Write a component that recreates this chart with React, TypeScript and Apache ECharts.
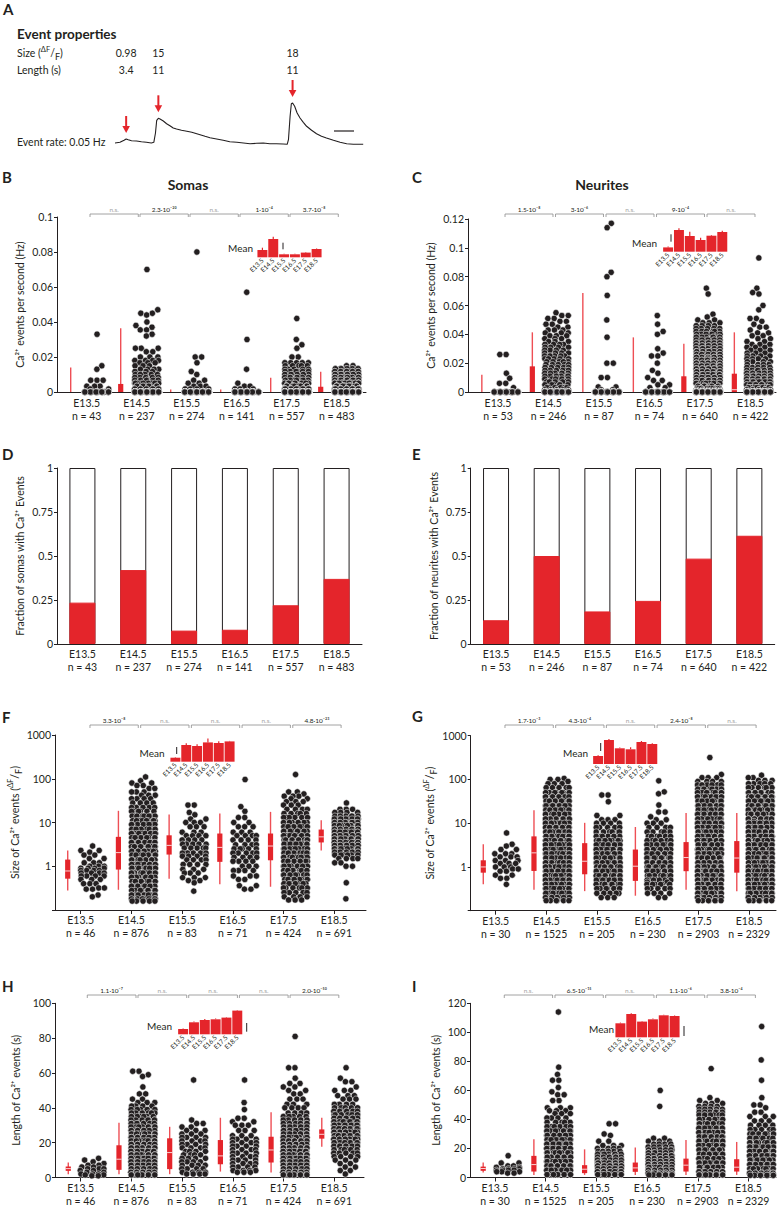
import React, { useEffect, useRef } from 'react';
import * as echarts from 'echarts';

const FONT = 'Lato, "Noto Sans", "DejaVu Sans", sans-serif';
const INK = '#231f20';
const RED = '#e4252b';
const WHISKER = '#ee4f55';
const BRACKET = '#8c8c8c';

const stages = ['E13.5', 'E14.5', 'E15.5', 'E16.5', 'E17.5', 'E18.5'];

// ---------- Panel A : example trace ----------
const traceT = [0,1.2,2.2,2.7,3.2,4.0,5.2,6.4,7.6,8.8,9.4,9.8,10.1,10.5,10.9,11.7,12.5,13.3,14.1,14.9,16.1,17.4,18.6,19.8,20.6,21.8,23.0,24.6,26.2,27.8,29.5,31.1,32.7,34.3,35.9,37.5,39.1,40.7,41.7,42.0,42.4,42.7,43.0,43.5,44.1,44.8,45.6,46.4,47.6,48.8,50.0,51.2,52.9,54.5,56.1,57.7,60.1];
const traceF = [0,0.7,2.7,4,3.3,2.3,2,1.3,0.7,0,0.7,10,22.7,24.7,24,22,19.3,17.3,15,14,12.7,11.7,10.7,9.3,8.3,6.7,5.3,4,2.7,1.3,0.7,0,-0.7,-0.3,0,-0.7,-0.7,-1,-1.3,3.3,26.7,39.3,40,36.7,30,25,20.7,16.7,12.7,9.3,6.7,5,2.7,0.7,-0.7,-1.3,-1.3];
const eventT = [2.7, 10.5, 43.0];
const eventPeak = [4, 24.7, 40];
const eventSize = ['0.98', '15', '18'];
const eventLength = ['3.4', '11', '11'];
const eventRate = '0.05 Hz';

// ---------- group sizes ----------
const nSomaRate = [43, 237, 274, 141, 557, 483];
const nNeuriteRate = [53, 246, 87, 74, 640, 422];
const nSomaEvt = [46, 876, 83, 71, 424, 691];
const nNeuriteEvt = [30, 1525, 205, 230, 2903, 2329];

// ---------- D / E fractions ----------
const fracSoma = [0.235, 0.42, 0.076, 0.081, 0.22, 0.37];
const fracNeurite = [0.135, 0.5, 0.185, 0.245, 0.485, 0.615];

// ---------- box plots [low, q1, median, q3, high] ----------
const boxRateSoma = [[0,0,0,0,0.014],[0,0,0,0.0046,0.0364],[0,0,0,0,0.0015],[0,0,0,0,0.0015],[0,0,0,0,0.0082],[0,0,0,0.003,0.0116]];
const boxRateNeurite = [[0,0,0,0,0.012],[0,0,0,0.0178,0.0414],[0,0,0,0,0.0687],[0,0,0,0,0.0379],[0,0,0,0.0109,0.0335],[0,0,0.0016,0.0127,0.0414]];
const boxSizeSoma = [[0.28,0.52,0.78,1.42,2.3],[0.29,0.84,2.05,4.7,18.5],[0.52,1.85,3.0,5.1,15.2],[0.39,1.26,2.7,5.6,16],[0.34,1.37,2.9,5.6,17.5],[2.3,3.5,4.7,6.9,11.3]];
const boxSizeNeurite = [[0.40,0.74,1.0,1.42,3.3],[0.30,0.81,2.1,5.0,19.9],[0.28,0.68,1.35,3.5,10.2],[0.22,0.48,1.04,2.5,8.2],[0.30,0.80,1.64,3.7,17.2],[0.28,0.74,1.6,3.9,17]];
const boxLenSoma = [[1.9,3.8,5.1,6.3,8.6],[1.9,4.4,10.5,18.5,31.4],[1.9,4.8,14.3,22.5,29.1],[3.4,7.6,12.4,21.5,34.3],[2.9,8.6,15.8,23.4,37.5],[17.7,22.3,24.8,27.6,34.3]];
const boxLenNeurite = [[3.4,4.6,6.2,7.5,10.3],[1.8,4.1,8.9,14.9,26.3],[1.8,3.0,5.7,8.5,19.4],[1.8,3.9,6.6,10.3,20.6],[1.8,4.1,8.5,13,25.8],[1.8,4.1,7.1,12.6,24.5]];

// ---------- per-cell values as [value, count] ----------
const rateSoma = [
  [[0.033,1],[0.015,1],[0.013,1],[0.0067,3],[0.0033,3],[0.0017,2],[0,32]],
  [[0.07,1],[0.047,1],[0.045,2],[0.044,1],[0.04,1],[0.038,1],[0.037,1],[0.0355,2],[0.033,1],[0.032,1],[0.025,3],[0.023,2],[0.02,3],[0.018,4],[0.0167,3],[0.015,3],[0.013,4],[0.0117,3],[0.01,5],[0.0083,5],[0.0067,7],[0.005,9],[0.0033,11],[0.0017,12],[0,151]],
  [[0.08,1],[0.02,2],[0.0167,1],[0.0117,1],[0.01,1],[0.0067,2],[0.005,2],[0.0033,3],[0.0017,4],[0,257]],
  [[0.057,1],[0.03,1],[0.013,1],[0.005,1],[0.0033,2],[0.0017,3],[0,132]],
  [[0.042,1],[0.03,1],[0.027,1],[0.025,1],[0.02,2],[0.0167,5],[0.015,5],[0.013,5],[0.0117,6],[0.01,8],[0.0083,8],[0.0067,10],[0.005,12],[0.0033,22],[0.0017,25],[0,445]],
  [[0.015,2],[0.0133,10],[0.0117,12],[0.01,14],[0.0083,14],[0.0067,16],[0.005,24],[0.0033,28],[0.0017,32],[0,331]],
];
const rateNeurite = [
  [[0.026,2],[0.013,1],[0.0095,1],[0.006,2],[0.003,1],[0,46]],
  [[0.055,1],[0.053,2],[0.051,2],[0.049,2],[0.047,2],[0.045,2],[0.043,3],[0.041,3],[0.039,3],[0.037,3],[0.035,3],[0.033,4],[0.031,4],[0.029,4],[0.027,4],[0.025,5],[0.023,5],[0.021,5],[0.019,5],[0.017,5],[0.015,6],[0.013,6],[0.011,6],[0.009,6],[0.007,6],[0.005,6],[0.003,6],[0.0015,6],[0,125]],
  [[0.117,1],[0.114,1],[0.083,1],[0.08,1],[0.067,1],[0.05,1],[0.038,1],[0.02,2],[0.01,2],[0.0035,2],[0.0015,2],[0,72]],
  [[0.053,1],[0.047,1],[0.042,1],[0.04,1],[0.03,1],[0.027,1],[0.025,2],[0.02,1],[0.015,1],[0.013,1],[0.01,1],[0.008,2],[0.005,2],[0.003,2],[0,56]],
  [[0.072,1],[0.068,1],[0.054,1],[0.052,1],[0.05,2],[0.048,3],[0.046,4],[0.044,5],[0.042,6],[0.04,7],[0.038,8],[0.036,9],[0.034,10],[0.032,10],[0.03,11],[0.028,12],[0.026,12],[0.024,12],[0.023,1],[0.022,13],[0.02,13],[0.018,14],[0.016,14],[0.014,14],[0.012,14],[0.01,14],[0.008,14],[0.006,14],[0.004,14],[0.0025,14],[0.0012,14],[0,352]],
  [[0.093,1],[0.072,1],[0.069,1],[0.068,1],[0.06,1],[0.057,1],[0.051,2],[0.049,1],[0.047,1],[0.045,2],[0.043,1],[0.041,2],[0.039,2],[0.037,2],[0.035,2],[0.033,3],[0.031,3],[0.029,3],[0.027,3],[0.025,4],[0.023,4],[0.021,4],[0.019,4],[0.017,5],[0.015,6],[0.013,8],[0.011,10],[0.009,12],[0.007,12],[0.005,12],[0.003,12],[0.0015,12],[0,230]],
];
const sizeSoma = [
  [[2.9,1],[2.3,2],[2.1,1],[1.8,2],[1.5,2],[1.2,3],[1.0,3],[0.9,4],[0.8,4],[0.7,4],[0.6,4],[0.5,3],[0.4,3],[0.32,2],[0.3,2],[0.22,1],[0.2,1]],
  [[110,1],[90,1],[80,2],[70,2],[60,2],[50,3],[42,3],[35,4],[28,4],[22,5],[18,6],[14,7],[11,8],[9,8],[7,9],[5.6,10],[4.5,10],[3.5,10],[2.8,10],[2.2,10],[1.8,10],[1.4,10],[1.1,10],[0.9,10],[0.7,10],[0.56,9],[0.45,9],[0.35,9],[0.28,8],[0.22,8],[0.18,7],[0.16,5]],
  [[25,2],[17,1],[15,1],[12,2],[10,3],[8,3],[6,3],[5,4],[4,4],[3.2,5],[2.6,5],[2,5],[1.7,4],[1.4,4],[1.1,4],[0.85,3],[0.7,3],[0.55,3],[0.47,2],[0.42,1],[0.27,1]],
  [[96,1],[23,1],[18,1],[13,2],[10,2],[8,3],[6,3],[5,4],[4,4],[3.1,4],[2.5,5],[2,5],[1.6,4],[1.3,4],[1,3],[0.8,4],[0.6,3],[0.5,2],[0.36,2],[0.3,2]],
  [[125,1],[50,2],[45,1],[40,3],[35,2],[30,3],[25,3],[20,4],[16,5],[13,6],[10,7],[8,8],[6.3,8],[5,9],[4,9],[3.2,9],[2.5,9],[2,9],[1.6,9],[1.3,9],[1,9],[0.8,9],[0.63,8],[0.5,8],[0.4,7],[0.32,6],[0.25,5],[0.2,4],[0.17,3]],
  [[28,1],[20,3],[17,4],[14,6],[12,8],[10,10],[8.5,10],[7,10],[6,10],[5,10],[4.2,10],[3.5,10],[3,10],[2.5,9],[2.1,8],[1.8,6],[1.5,4],[1.2,2],[1,2],[0.42,1],[0.18,1]],
];
const sizeNeurite = [
  [[6,1],[3.3,1],[3,1],[2.5,2],[2,3],[1.7,3],[1.4,3],[1.2,3],[1,3],[0.9,2],[0.8,2],[0.65,2],[0.55,2],[0.4,1]],
  [[105,1],[100,2],[90,1],[80,3],[65,5],[50,7],[40,8],[32,9],[25,10],[20,10],[16,10],[12.5,10],[10,10],[8,10],[6.3,10],[5,10],[4,10],[3.2,10],[2.5,10],[2,10],[1.6,10],[1.25,10],[1,10],[0.8,10],[0.63,10],[0.5,10],[0.4,10],[0.32,10],[0.25,9],[0.2,8],[0.17,6]],
  [[44,2],[31,1],[15,2],[12,3],[10,4],[8,5],[6.3,6],[5,7],[4,8],[3.2,8],[2.5,9],[2,9],[1.6,9],[1.25,9],[1,9],[0.8,9],[0.63,8],[0.5,8],[0.4,7],[0.32,6],[0.25,5],[0.2,3]],
  [[93,1],[52,1],[47,1],[26,1],[18,2],[14,1],[12,2],[10,3],[8,4],[6.3,5],[5,6],[4,7],[3.2,8],[2.5,8],[2,8],[1.6,8],[1.25,8],[1,8],[0.8,8],[0.63,7],[0.5,7],[0.45,2],[0.4,6],[0.32,5],[0.25,4],[0.2,2]],
  [[316,1],[130,1],[110,3],[90,4],[75,6],[60,7],[50,8],[40,10],[32,10],[25,10],[20,10],[16,10],[12.5,10],[10,10],[8,10],[6.3,10],[5,10],[4,10],[3.2,10],[2.5,10],[2,10],[1.6,10],[1.25,10],[1,10],[0.8,10],[0.63,10],[0.5,10],[0.4,10],[0.32,10],[0.25,10],[0.2,9],[0.17,7]],
  [[125,1],[110,2],[95,3],[80,5],[65,6],[50,8],[40,9],[32,10],[25,10],[20,10],[16,10],[12.5,10],[11,1],[10,10],[8,10],[6.3,10],[5,10],[4,10],[3.2,10],[2.5,10],[2,10],[1.6,10],[1.25,10],[1,10],[0.8,10],[0.63,10],[0.5,10],[0.4,10],[0.32,10],[0.25,10],[0.2,9],[0.17,6]],
];
const lenSoma = [
  [[11,1],[10,1],[9,1],[8,1],[7,2],[6,2],[5,3],[4,2],[3,2],[2,3],[1.5,2],[1,2]],
  [[61,2],[59,1],[58,1],[52,1],[48,2],[45,2],[43,3],[41,4],[39,5],[37,6],[35,7],[33,7],[31,8],[29,8],[27,9],[25,9],[23,10],[21,10],[19,10],[17,10],[15,10],[13,10],[11,10],[9,10],[7,10],[5,10],[3,10],[1.5,10]],
  [[56,1],[33,1],[31,2],[29,2],[27,3],[25,3],[23,4],[21,4],[19,4],[17,4],[15,4],[13,4],[11,4],[9,4],[7,4],[5,4],[3,4],[2,4]],
  [[56,1],[43,1],[39,1],[34,2],[32,2],[30,3],[27,3],[24,3],[22,4],[20,4],[18,4],[16,4],[14,4],[12,4],[10,4],[8,4],[6,4],[4,4],[3,3]],
  [[81,1],[63,2],[57,1],[54,2],[52,2],[50,2],[48,2],[45,3],[42,3],[40,4],[37,4],[35,5],[33,5],[31,6],[29,7],[27,7],[25,8],[23,8],[21,9],[19,9],[17,10],[15,10],[13,10],[11,10],[9,10],[7,10],[5,10],[3,10],[1.5,10]],
  [[63,1],[57,1],[55,2],[52,1],[50,3],[47,3],[45,3],[42,4],[40,5],[38,6],[36,7],[34,8],[32,9],[30,10],[28,10],[26,10],[24,10],[22,10],[20,9],[18,8],[16,6],[14,5],[12,4],[10,3],[8,2],[6,2],[4,2],[2,1]],
];
const lenNeurite = [
  [[15,1],[10,2],[8,2],[7,2],[6,4],[5,4],[4,3],[3,2]],
  [[114,1],[76,1],[71,1],[67,2],[62,1],[59,1],[57,2],[53,2],[48,3],[46,3],[44,3],[41,4],[38,5],[35,6],[32,8],[29,9],[26,10],[23,10],[20,10],[17,10],[14,10],[11,10],[8,10],[5,10],[2,10]],
  [[37,2],[30,1],[29,1],[25,2],[22,3],[20,4],[18,5],[16,6],[14,7],[12,8],[10,9],[8,10],[6,10],[4,10],[2,10]],
  [[60,1],[49,1],[27,2],[25,3],[23,4],[21,5],[19,6],[17,7],[15,8],[13,9],[11,10],[9,10],[7,10],[5,10],[3,10],[1.8,8]],
  [[75,1],[55,1],[53,2],[51,3],[49,4],[47,5],[45,6],[43,7],[40,8],[37,9],[34,10],[31,10],[28,10],[25,10],[22,10],[19,10],[16,10],[13,10],[10,10],[7,10],[4,10],[1.8,10]],
  [[104,1],[81,1],[67,1],[55,1],[50,2],[48,1],[45,2],[42,3],[39,3],[36,4],[33,5],[30,6],[27,7],[24,8],[21,9],[18,10],[15,10],[12,10],[9,10],[6,10],[3,10],[1.5,8]],
];

// ---------- significance between neighbours ----------
const sigRateSoma = ['n.s.', '2.3·10⁻²⁰', 'n.s.', '1·10⁻⁴', '3.7·10⁻⁸'];
const sigRateNeurite = ['1.5·10⁻⁸', '3·10⁻⁶', 'n.s.', '9·10⁻⁴', 'n.s.'];
const sigSizeSoma = ['3.3·10⁻⁸', 'n.s.', 'n.s.', 'n.s.', '4.8·10⁻²³'];
const sigSizeNeurite = ['1.7·10⁻³', '4.3·10⁻⁴', 'n.s.', '2.4·10⁻⁸', 'n.s.'];
const sigLenSoma = ['1.1·10⁻⁷', 'n.s.', 'n.s.', 'n.s.', '2.0·10⁻⁵⁰'];
const sigLenNeurite = ['n.s.', '6.5·10⁻¹⁵', 'n.s.', '1.1·10⁻⁶', '3.8·10⁻⁴'];

// ---------- inset means (relative units) ----------
const meanRateSoma = [7.3, 18.3, 3, 3, 4.7, 8.3];
const errRateSoma = [2.3, 2.3, 0.5, 0.5, 0.5, 0.5];
const meanRateNeurite = [4.3, 21.7, 15.7, 11.7, 16, 19.7];
const errRateNeurite = [1, 1.7, 4.3, 2.3, 0.7, 1.3];
const meanSizeSoma = [4, 16.7, 15.7, 19.3, 18.7, 20.3];
const errSizeSoma = [0.5, 1.7, 1.7, 4, 1.7, 0.5];
const meanSizeNeurite = [8, 24, 15.7, 14.7, 22, 20];
const errSizeNeurite = [0.7, 1, 0.7, 2, 1, 0.7];
const meanLenSoma = [5.3, 12, 14.3, 15, 16.7, 23.7];
const errLenSoma = [0.5, 0.7, 1, 0.7, 0.5, 0.5];
const meanLenNeurite = [14, 23.3, 15.7, 18, 22, 21.3];
const errLenNeurite = [0.7, 0.7, 0.7, 0.7, 0.5, 0.5];

// ---------- layout (styles) ----------
const GEO: any = {
  B: { left: 57, top: 217, height: 175, axisEnd: 366, c0: 86.7, sp: 50, ymin: 0, ymax: 0.1, interval: 0.02, boxOff: -0.32, swOff: 0.2, brS: 0.066, brE: 0.032, brLift: 3, ticks: false, nameGap: 29, lm: 4.5 },
  C: { left: 468, top: 219, height: 173, axisEnd: 776, c0: 498, sp: 50.5, ymin: 0, ymax: 0.12, interval: 0.02, boxOff: -0.32, swOff: 0.16, brS: 0.139, brE: 0.089, brLift: 5, ticks: false, nameGap: 25, lm: 4.5 },
  F: { left: 55, top: 735, height: 175, axisEnd: 366, c0: 80.7, sp: 50.7, log: true, ymin: 0.1, ymax: 1000, boxOff: -0.256, swOff: 0.237, brS: 0.183, brE: 0.136, brLift: 10, ticks: true, nameGap: 30, lm: 3.5 },
  G: { left: 470.7, top: 735.7, height: 175, axisEnd: 776, c0: 495.7, sp: 50.7, log: true, ymin: 0.1, ymax: 1000, boxOff: -0.245, swOff: 0.217, brS: 0.183, brE: 0.136, brLift: 10.7, ticks: true, nameGap: 29, lm: 3.5 },
  H: { left: 55, top: 1003.3, height: 175, axisEnd: 364, c0: 80.7, sp: 50.7, ymin: 0, ymax: 100, interval: 20, boxOff: -0.245, swOff: 0.227, brS: 0.13, brE: 0.091, brLift: 8.3, ticks: true, nameGap: 31, lm: 3.5 },
  I: { left: 470, top: 1003.3, height: 175, axisEnd: 776, c0: 495, sp: 50.7, ymin: 0, ymax: 120, interval: 20, boxOff: -0.233, swOff: 0.256, brS: 0.183, brE: 0.136, brLift: 8.3, ticks: true, nameGap: 24, lm: 3.5 },
};
const INSET: any = {
  B: { x: 257, base: 257.3, bar: [283, 242.7, 249.3], meanX: 253, meanY: 248 },
  C: { x: 662.7, base: 251.7, bar: [671, 234.3, 241.7], meanX: 657, meanY: 242.7 },
  F: { x: 170, base: 761.7, bar: [176.7, 747, 754], meanX: 164.5, meanY: 753 },
  G: { x: 592.7, base: 764, bar: [600.7, 743, 751], meanX: 588, meanY: 753.3 },
  H: { x: 177.7, base: 1034.3, bar: [246.7, 1023, 1031.7], meanX: 172, meanY: 1026 },
  I: { x: 615, base: 1037.3, bar: [684, 1026, 1036], meanX: 614, meanY: 1028.7 },
};

function expand(pairs: number[][]) {
  const out: number[] = [];
  pairs.forEach(([v, c]) => { for (let k = 0; k < c; k++) out.push(v); });
  return out;
}
function toPx(v: number, g: any) {
  if (g.log) return (Math.log10(v) - Math.log10(g.ymin)) / (Math.log10(g.ymax) - Math.log10(g.ymin)) * g.height;
  return (v - g.ymin) / (g.ymax - g.ymin) * g.height;
}
// beeswarm-like spreading inside a fixed width (pixels); candidate grid is shifted by a
// golden-ratio phase per point so that dense rows do not line up in columns
function spread(py: number[], R: number, half: number) {
  const n = py.length;
  const order = py.map((_, i) => i).sort((a, b) => py[a] - py[b]);
  const out = new Array(n).fill(0);
  const PX: number[] = [], PY: number[] = [];
  const D = 2 * R;
  const step = 0.75;
  order.forEach((i, cnt) => {
    const y = py[i];
    const phase = (((cnt * 0.618034) % 1) - 0.5) * step;
    const cands = [phase];
    for (let k = step; k <= half; k += step) { cands.push(k + phase, -k + phase); }
    const nb: number[] = [];
    for (let j = PY.length - 1; j >= 0; j--) { if (y - PY[j] >= D) break; nb.push(j); }
    let best = 0, bestS = Infinity;
    for (const c of cands) {
      if (Math.abs(c) > half) continue;
      let s = Math.abs(c) * 0.04;
      for (const j of nb) {
        const dx = c - PX[j], dy = y - PY[j];
        const d = Math.sqrt(dx * dx + dy * dy);
        if (d < D) s += D - d;
      }
      if (s < bestS) { bestS = s; best = c; }
    }
    out[i] = best; PX.push(best); PY.push(y);
  });
  return out;
}

const tStyle = (o: any) => ({ fontFamily: FONT, fill: INK, ...o });
function txt(x: number, y: number, text: string, o: any = {}) {
  return { type: 'text', x, y, silent: true, style: tStyle({ text, fontSize: 10.5, align: 'left', verticalAlign: 'middle', textAlign: 'left', textVerticalAlign: 'middle', ...o }) };
}

const nameRich = {
  up: { fontSize: 7.5, verticalAlign: 'top', lineHeight: 16, fontFamily: FONT, color: INK },
  dn: { fontSize: 9, verticalAlign: 'bottom', lineHeight: 16, fontFamily: FONT, color: INK },
};

function buildOption() {
  const o: any = { animation: false, backgroundColor: '#fff', grid: [], xAxis: [], yAxis: [], series: [], graphic: [] };
  const addGrid = (g: any) => { o.grid.push({ containLabel: false, ...g }); return o.grid.length - 1; };

  // ----- A -----
  const gA = addGrid({ left: 115, top: 101, width: 248.2, height: 44 });
  o.xAxis.push({ gridIndex: gA, type: 'value', min: 0, max: 60.1, show: false });
  o.yAxis.push({ gridIndex: gA, type: 'value', min: -2, max: 42, show: false });
  o.series.push({ type: 'line', xAxisIndex: gA, yAxisIndex: gA, data: traceT.map((t, i) => [t, traceF[i]]), showSymbol: false, lineStyle: { color: INK, width: 1.1 }, silent: true });
  o.series.push({
    type: 'custom', xAxisIndex: gA, yAxisIndex: gA, silent: true, clip: false,
    data: eventT.map((t, i) => [t, eventPeak[i]]),
    renderItem: (params: any, api: any) => {
      const i = params.dataIndex;
      const p = api.coord([api.value(0), api.value(1)]);
      const tip = p[1] - 6;
      return { type: 'group', children: [
        { type: 'rect', shape: { x: p[0] - 1, y: tip - 17, width: 2, height: 11 }, style: { fill: RED } },
        { type: 'polygon', shape: { points: [[p[0] - 3.8, tip - 7], [p[0] + 3.8, tip - 7], [p[0], tip]] }, style: { fill: RED } },
        { type: 'text', style: tStyle({ text: eventSize[i], x: p[0], y: 53, fontSize: 10.5, align: 'center', verticalAlign: 'middle', textAlign: 'center', textVerticalAlign: 'middle' }) },
        { type: 'text', style: tStyle({ text: eventLength[i], x: p[0], y: 70, fontSize: 10.5, align: 'center', verticalAlign: 'middle', textAlign: 'center', textVerticalAlign: 'middle' }) },
      ] };
    },
  });
  o.graphic.push({ type: 'line', silent: true, shape: { x1: 334, y1: 131, x2: 354, y2: 131 }, style: { stroke: INK, lineWidth: 1.2 } });
  o.graphic.push(txt(17, 33.5, 'Event properties', { fontSize: 13.5, fontWeight: 'bold' }));
  o.graphic.push({ type: 'text', x: 17, y: 53, silent: true, style: tStyle({ text: 'Size ({u|ΔF}/{d|F})', fontSize: 10.5, verticalAlign: 'middle', textVerticalAlign: 'middle',
    rich: { u: { fontSize: 7.5, verticalAlign: 'top', lineHeight: 16, fill: INK, fontFamily: FONT }, d: { fontSize: 9, verticalAlign: 'bottom', lineHeight: 16, fill: INK, fontFamily: FONT } } }) });
  o.graphic.push(txt(17, 70, 'Length (s)'));
  o.graphic.push(txt(17, 142, 'Event rate: ' + eventRate));

  // ----- letters & titles -----
  const letters: any[] = [['A', 3, 8.5], ['B', 2, 177], ['C', 412, 177], ['D', 2, 454], ['E', 412, 454], ['F', 2, 717], ['G', 412, 716], ['H', 2, 986], ['I', 412, 986]];
  letters.forEach(([l, x, y]) => o.graphic.push(txt(x, y, l, { fontSize: 15, fontWeight: 'bold' })));
  o.graphic.push(txt(188, 184.5, 'Somas', { fontSize: 14, fontWeight: 'bold', align: 'center', textAlign: 'center' }));
  o.graphic.push(txt(602, 184.5, 'Neurites', { fontSize: 14, fontWeight: 'bold', align: 'center', textAlign: 'center' }));

  const yAxisBase = (g: any, name: string, rich?: any) => ({
    axisLine: { show: true, onZero: false, lineStyle: { color: INK, width: 1 } },
    axisTick: { show: true, length: 3, lineStyle: { color: INK, width: 1 } },
    axisLabel: { color: INK, fontSize: 10.5, fontFamily: FONT, margin: 4 },
    splitLine: { show: false },
    name, nameLocation: 'middle', nameGap: g.nameGap,
    nameTextStyle: { color: INK, fontSize: 10.5, fontFamily: FONT, lineHeight: 16, ...(rich ? { rich } : {}) },
  });

  const swarmPanel = (g: any, groups: any[], boxes: number[][], sig: string[], nArr: number[], name: string, rich?: any) => {
    const gi = addGrid({ left: g.left, top: g.top, width: g.axisEnd - g.left, height: g.height });
    const xmin = -(g.c0 - g.left) / g.sp;
    const xmax = (g.axisEnd - g.c0) / g.sp;
    const idx = [0, 1, 2, 3, 4, 5];
    o.xAxis.push({
      gridIndex: gi, type: 'value', min: xmin, max: xmax, splitLine: { show: false },
      axisLine: { show: true, onZero: false, lineStyle: { color: INK, width: 1 } },
      axisTick: { show: g.ticks, customValues: idx, length: 4, lineStyle: { color: INK, width: 1 } },
      axisLabel: {
        customValues: idx, color: INK, fontSize: 10.5, fontFamily: FONT, lineHeight: 13, margin: g.lm,
        formatter: (v: number) => { const k = Math.round(v); return Math.abs(v - k) < 1e-6 && k >= 0 && k < 6 ? `${stages[k]}\nn = ${nArr[k]}` : ''; },
      },
    });
    const yb: any = yAxisBase(g, name, rich);
    const ya: any = { gridIndex: gi, type: g.log ? 'log' : 'value', min: g.ymin, max: g.ymax, ...yb };
    if (g.log) { ya.logBase = 10; ya.axisLabel = { ...yb.axisLabel, formatter: (v: number) => (v < 0.5 ? '' : String(v)) }; }
    else { ya.interval = g.interval; ya.axisLabel = { ...yb.axisLabel, formatter: (v: number) => String(Math.round(v * 1000) / 1000) }; }
    o.yAxis.push(ya);

    // box plots
    o.series.push({
      type: 'custom', xAxisIndex: gi, yAxisIndex: gi, silent: true, clip: false, z: 3,
      data: boxes.map((b, k) => [k + g.boxOff, ...b]),
      renderItem: (params: any, api: any) => {
        const x = api.value(0);
        const c = (d: number) => api.coord([x, api.value(d)]);
        const lo = c(1), q1 = c(2), md = c(3), q3 = c(4), hi = c(5);
        const ch: any[] = [{ type: 'line', shape: { x1: lo[0], y1: lo[1], x2: hi[0], y2: hi[1] }, style: { stroke: WHISKER, lineWidth: 1.4 } }];
        if (q1[1] - q3[1] > 0.5) {
          ch.push({ type: 'rect', shape: { x: q1[0] - 2.6, y: q3[1], width: 5.2, height: q1[1] - q3[1] }, style: { fill: RED } });
          if (api.value(3) > api.value(2)) ch.push({ type: 'line', shape: { x1: md[0] - 2.6, y1: md[1], x2: md[0] + 2.6, y2: md[1] }, style: { stroke: '#fff', lineWidth: 0.8 } });
        }
        return { type: 'group', children: ch };
      },
    });

    // swarm
    const pts: number[][] = [];
    groups.forEach((pairs: number[][], k: number) => {
      const vals = expand(pairs);
      const py = vals.map((v) => toPx(v, g));
      const dx = spread(py, 3, 12);
      vals.forEach((v, j) => pts.push([k + g.swOff + dx[j] / g.sp, v]));
    });
    o.series.push({
      type: 'scatter', xAxisIndex: gi, yAxisIndex: gi, data: pts, symbol: 'circle', symbolSize: 6.3, silent: true, clip: false,
      progressive: 0, large: false, z: 4,
      itemStyle: { color: INK, borderColor: '#e2e2e2', borderWidth: 0.6, opacity: 1 },
    });

    // significance brackets
    o.series.push({
      type: 'custom', xAxisIndex: gi, yAxisIndex: gi, silent: true, clip: false, z: 5,
      data: sig.map((_, k) => [k, g.ymax]),
      renderItem: (params: any, api: any) => {
        const k = api.value(0);
        const a = api.coord([k + g.brS, g.ymax]);
        const b = api.coord([k + 1 + g.brE, g.ymax]);
        const y = a[1] - g.brLift;
        const label = sig[params.dataIndex];
        const ns = label === 'n.s.';
        return { type: 'group', children: [
          { type: 'polyline', shape: { points: [[a[0], y + 3], [a[0], y], [b[0], y], [b[0], y + 3]] }, style: { stroke: BRACKET, lineWidth: 0.8, fill: 'none' } },
          { type: 'text', style: tStyle({ text: label, x: (a[0] + b[0]) / 2, y: y - 1.5, fontSize: 6.5, fill: ns ? '#a3a3a3' : INK, align: 'center', verticalAlign: 'bottom', textAlign: 'center', textVerticalAlign: 'bottom' }) },
        ] };
      },
    });
  };

  const fracPanel = (left: number, top: number, width: number, frac: number[], nArr: number[], name: string, nameGap: number) => {
    const gi = addGrid({ left, top, width, height: 176 });
    o.xAxis.push({
      gridIndex: gi, type: 'category', data: stages, axisTick: { show: false },
      axisLine: { show: true, lineStyle: { color: INK, width: 1 } },
      axisLabel: { color: INK, fontSize: 10.5, fontFamily: FONT, lineHeight: 13, margin: 3, interval: 0, formatter: (v: string, i: number) => `${v}\nn = ${nArr[i]}` },
    });
    o.yAxis.push({ gridIndex: gi, type: 'value', min: 0, max: 1, interval: 0.25, ...yAxisBase({ nameGap }, name) });
    o.series.push({ type: 'bar', xAxisIndex: gi, yAxisIndex: gi, data: frac.map(() => 1), barWidth: 26, silent: true, itemStyle: { color: '#fff', borderColor: INK, borderWidth: 1 } });
    o.series.push({ type: 'bar', xAxisIndex: gi, yAxisIndex: gi, data: frac, barWidth: 26, barGap: '-100%', silent: true, itemStyle: { color: RED, borderColor: RED, borderWidth: 1 } });
  };

  const insetPanel = (cfg: any, means: number[], errs: number[]) => {
    const gi = addGrid({ left: cfg.x, top: cfg.base - 18, width: 65, height: 18 });
    o.xAxis.push({ gridIndex: gi, type: 'category', data: stages, axisLine: { show: false }, axisTick: { show: false }, axisLabel: { rotate: 45, fontSize: 6.5, margin: 2, color: INK, fontFamily: FONT, interval: 0 } });
    o.yAxis.push({ gridIndex: gi, type: 'value', min: 0, max: 18, show: false });
    o.series.push({ type: 'bar', xAxisIndex: gi, yAxisIndex: gi, data: means, barCategoryGap: '8%', clip: false, silent: true, z: 6, itemStyle: { color: RED } });
    o.series.push({
      type: 'custom', xAxisIndex: gi, yAxisIndex: gi, silent: true, clip: false, z: 6,
      data: means.map((m, k) => [k, m, errs[k]]),
      renderItem: (params: any, api: any) => {
        const a = api.coord([api.value(0), api.value(1)]);
        const b = api.coord([api.value(0), api.value(1) + api.value(2)]);
        return { type: 'line', shape: { x1: a[0], y1: a[1], x2: b[0], y2: b[1] }, style: { stroke: RED, lineWidth: 1.2 } };
      },
    });
    o.graphic.push({ type: 'line', silent: true, shape: { x1: cfg.bar[0], y1: cfg.bar[1], x2: cfg.bar[0], y2: cfg.bar[2] }, style: { stroke: INK, lineWidth: 1 } });
    o.graphic.push(txt(cfg.meanX, cfg.meanY, 'Mean', { fontSize: 10, align: 'right', textAlign: 'right' }));
  };

  swarmPanel(GEO.B, rateSoma, boxRateSoma, sigRateSoma, nSomaRate, 'Ca²⁺ events per second (Hz)');
  swarmPanel(GEO.C, rateNeurite, boxRateNeurite, sigRateNeurite, nNeuriteRate, 'Ca²⁺ events per second (Hz)');
  fracPanel(57, 468, 305, fracSoma, nSomaRate, 'Fraction of somas with Ca²⁺ Events', 29);
  fracPanel(470.7, 468, 304, fracNeurite, nNeuriteRate, 'Fraction of neurites with Ca²⁺ Events', 29);
  swarmPanel(GEO.F, sizeSoma, boxSizeSoma, sigSizeSoma, nSomaEvt, 'Size of Ca²⁺ events ({up|ΔF}/{dn|F})', nameRich);
  swarmPanel(GEO.G, sizeNeurite, boxSizeNeurite, sigSizeNeurite, nNeuriteEvt, 'Size of Ca²⁺ events ({up|ΔF}/{dn|F})', nameRich);
  swarmPanel(GEO.H, lenSoma, boxLenSoma, sigLenSoma, nSomaEvt, 'Length of Ca²⁺ events (s)');
  swarmPanel(GEO.I, lenNeurite, boxLenNeurite, sigLenNeurite, nNeuriteEvt, 'Length of Ca²⁺ events (s)');
  insetPanel(INSET.B, meanRateSoma, errRateSoma);
  insetPanel(INSET.C, meanRateNeurite, errRateNeurite);
  insetPanel(INSET.F, meanSizeSoma, errSizeSoma);
  insetPanel(INSET.G, meanSizeNeurite, errSizeNeurite);
  insetPanel(INSET.H, meanLenSoma, errLenSoma);
  insetPanel(INSET.I, meanLenNeurite, errLenNeurite);
  return o;
}

export default function App() {
  const ref = useRef<HTMLDivElement>(null);
  useEffect(() => {
    const chart = echarts.init(ref.current as HTMLDivElement, null, { renderer: 'svg' });
    chart.setOption(buildOption());
    return () => chart.dispose();
  }, []);
  return <div ref={ref} style={{ position: 'absolute', left: 0, top: 0, width: 778, height: 1207, background: '#fff' }} />;
}
